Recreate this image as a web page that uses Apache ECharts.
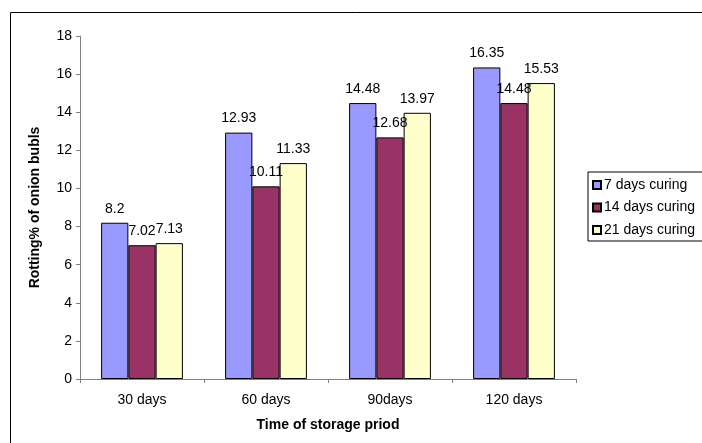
<!DOCTYPE html>
<html><head><meta charset="utf-8">
<script src="https://cdn.jsdelivr.net/npm/echarts@6/dist/echarts.min.js"></script>
<style>html,body{margin:0;padding:0;background:#fff}#c{width:702px;height:443px}</style>
</head><body><div id="c"></div>
<script>
var categories = ['30 days', '60 days', '90days', '120 days'];
var seriesNames = ['7 days curing', '14 days curing', '21 days curing'];
var cure7 = [8.2, 12.93, 14.48, 16.35];
var cure14 = [7.02, 10.11, 12.68, 14.48];
var cure21 = [7.13, 11.33, 13.97, 15.53];
var colors = ['#9999FF', '#993366', '#FFFFCC'];
var values = [cure7, cure14, cure21];

var chart = echarts.init(document.getElementById('c'));
var font = 'Arial, "Liberation Sans", sans-serif';
chart.setOption({
  animation: false,
  textStyle: {fontFamily: font},
  graphic: [{type: 'rect', shape: {x: 10.5, y: 12.5, width: 800, height: 600}, style: {fill: 'none', stroke: '#000', lineWidth: 1}, silent: true}],
  grid: {left: 80, right: 126, top: 36, bottom: 64},
  legend: {
    orient: 'vertical', left: 588, top: 172,
    data: seriesNames,
    icon: 'rect', itemWidth: 8, itemHeight: 8, itemGap: 8.5,
    borderColor: '#000', borderWidth: 1, padding: [6, 40, 4, 4],
    textStyle: {fontSize: 14, color: '#000', fontFamily: font, padding: [0, 0, 0, -2]}
  },
  xAxis: {
    type: 'category', data: categories,
    name: 'Time of storage priod', nameLocation: 'middle', nameGap: 39,
    nameTextStyle: {fontWeight: 'bold', fontSize: 14, color: '#000'},
    axisLine: {lineStyle: {color: '#808080'}},
    axisTick: {show: true, length: 4, lineStyle: {color: '#808080'}},
    axisLabel: {color: '#000', fontSize: 14, margin: 14}
  },
  yAxis: {
    type: 'value', min: 0, max: 18, interval: 2,
    name: 'Rotting% of onion bubls', nameLocation: 'middle', nameGap: 38,
    nameTextStyle: {fontWeight: 'bold', fontSize: 14, color: '#000'},
    axisLine: {show: true, lineStyle: {color: '#808080'}},
    axisTick: {show: true, length: 4, lineStyle: {color: '#808080'}},
    axisLabel: {color: '#000', fontSize: 14, margin: 8},
    splitLine: {show: false}
  },
  series: seriesNames.map(function (n, i) {
    return {
      name: n, type: 'bar', data: values[i],
      barGap: '0%', barCategoryGap: '34%',
      itemStyle: {color: colors[i], borderColor: '#000', borderWidth: 1},
      label: {show: true, position: 'top', distance: 7, color: '#000', fontSize: 14, fontFamily: font}
    };
  })
});
</script></body></html>
